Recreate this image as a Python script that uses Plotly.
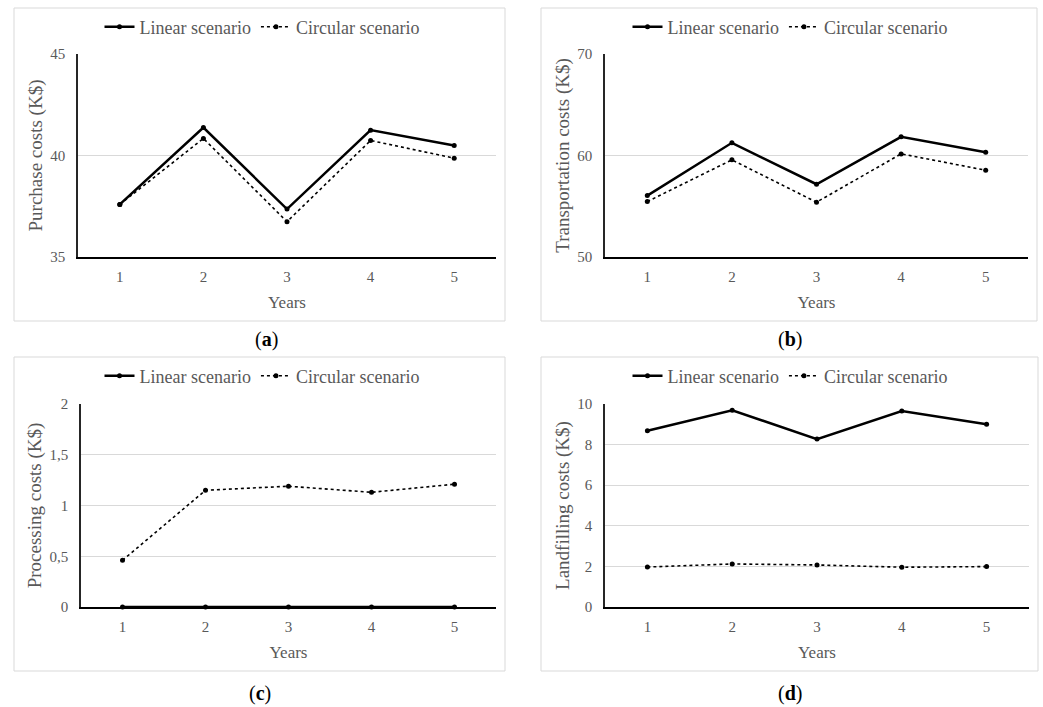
import plotly.graph_objects as go

years = [1, 2, 3, 4, 5]

purchase_linear = [37.59, 41.38, 37.36, 41.25, 40.49]
purchase_circular = [37.59, 40.84, 36.74, 40.74, 39.87]

transport_linear = [56.05, 61.25, 57.17, 61.84, 60.33]
transport_circular = [55.46, 59.57, 55.40, 60.16, 58.55]

processing_linear = [0, 0, 0, 0, 0]
processing_circular = [0.46, 1.15, 1.19, 1.13, 1.21]

landfill_linear = [8.68, 9.69, 8.27, 9.65, 9.00]
landfill_circular = [1.97, 2.12, 2.07, 1.96, 1.99]

y_titles = ["Purchase costs (K$)", "Transportation costs (K$)",
            "Processing costs (K$)", "Landfilling costs (K$)"]
y_ranges = [(35, 45, 5), (50, 70, 10), (0, 2, 0.5), (0, 10, 2)]
panel_letters = ["a", "b", "c", "d"]
series_names = ["Linear scenario", "Circular scenario"]

W, H = 1043, 707
FONT = "Liberation Serif"
GRAY = "#595959"

def px_x(v):
    return v / W

def px_y(v):
    return 1 - v / H

# plot-area boxes (pixel coords): x0, x1, ytop, ybottom
plot_boxes = [(78, 496, 54, 257), (605, 1028, 54, 257),
              (81, 496, 404, 607), (605, 1029, 404, 607)]
frame_boxes = [(14, 505, 8, 321), (541, 1037, 8, 321),
               (14, 505, 357, 671), (541, 1038, 357, 671)]
legend_pos = [(262, 27), (790, 27), (262, 376), (790, 376)]
label_pos = [(266, 340), (790, 340), (260, 693), (790, 693)]

data = [(purchase_linear, purchase_circular),
        (transport_linear, transport_circular),
        (processing_linear, processing_circular),
        (landfill_linear, landfill_circular)]

fig = go.Figure()
layout = dict(
    width=W, height=H, margin=dict(l=0, r=0, t=0, b=0, autoexpand=False),
    paper_bgcolor="white", plot_bgcolor="white",
    separators=", ", showlegend=True,
    font=dict(family=FONT, color=GRAY, size=16),
)
shapes = []
annotations = []

for i in range(4):
    n = "" if i == 0 else str(i + 1)
    xa, ya = "x" + n, "y" + n
    leg = "legend" if i == 0 else "legend" + str(i + 1)
    lin, circ = data[i]
    fig.add_trace(go.Scatter(
        x=years, y=lin, name=series_names[0], mode="lines+markers",
        line=dict(color="black", width=2.5),
        marker=dict(color="black", size=5),
        xaxis=xa, yaxis=ya, legend=leg, cliponaxis=False))
    fig.add_trace(go.Scatter(
        x=years, y=circ, name=series_names[1], mode="lines+markers",
        line=dict(color="black", width=1.6, dash="dot"),
        marker=dict(color="black", size=5),
        xaxis=xa, yaxis=ya, legend=leg, cliponaxis=False))

    x0, x1, yt, yb = plot_boxes[i]
    lo, hi, dt = y_ranges[i]
    layout["xaxis" + n] = dict(
        domain=[px_x(x0), px_x(x1)], range=[0.5, 5.5],
        tickmode="array", tickvals=years, ticktext=[str(v) for v in years],
        showgrid=False, zeroline=False, automargin=False,
        showline=True, linecolor="black", linewidth=1.5,
        ticks="outside", ticklen=5, tickcolor="rgba(0,0,0,0)",
        tickfont=dict(family=FONT, size=15, color=GRAY),
        title=dict(text="Years", font=dict(family=FONT, size=17, color=GRAY), standoff=12),
        anchor=ya, fixedrange=True)
    layout["yaxis" + n] = dict(
        domain=[px_y(yb), px_y(yt)], range=[lo, hi], dtick=dt, tick0=0,
        showgrid=True, gridcolor="#d9d9d9", gridwidth=1, zeroline=False,
        automargin=False,
        showline=True, linecolor="#262626", linewidth=1.5,
        ticks="outside", ticklen=8, tickcolor="rgba(0,0,0,0)",
        tickfont=dict(family=FONT, size=15, color=GRAY),
        title=dict(text=y_titles[i], font=dict(family=FONT, size=19, color=GRAY), standoff=3),
        anchor=xa, fixedrange=True)

    lx, ly = legend_pos[i]
    layout[leg] = dict(
        orientation="h", x=px_x(lx), y=px_y(ly), xanchor="center", yanchor="middle",
        xref="paper", yref="paper",
        font=dict(family=FONT, size=18, color=GRAY),
        bgcolor="rgba(0,0,0,0)", itemclick=False, itemdoubleclick=False)

    fx0, fx1, fy0, fy1 = frame_boxes[i]
    shapes.append(dict(type="rect", xref="paper", yref="paper",
                       x0=px_x(fx0), x1=px_x(fx1), y0=px_y(fy1), y1=px_y(fy0),
                       line=dict(color="#d9d9d9", width=1), layer="below"))

    ax, ay = label_pos[i]
    annotations.append(dict(
        text="(<b>" + panel_letters[i] + "</b>)", xref="paper", yref="paper",
        x=px_x(ax), y=px_y(ay), xanchor="center", yanchor="middle",
        showarrow=False, font=dict(family=FONT, size=20, color="black")))

layout["shapes"] = shapes
layout["annotations"] = annotations
fig.update_layout(**layout)

fig.write_html("out.html")
